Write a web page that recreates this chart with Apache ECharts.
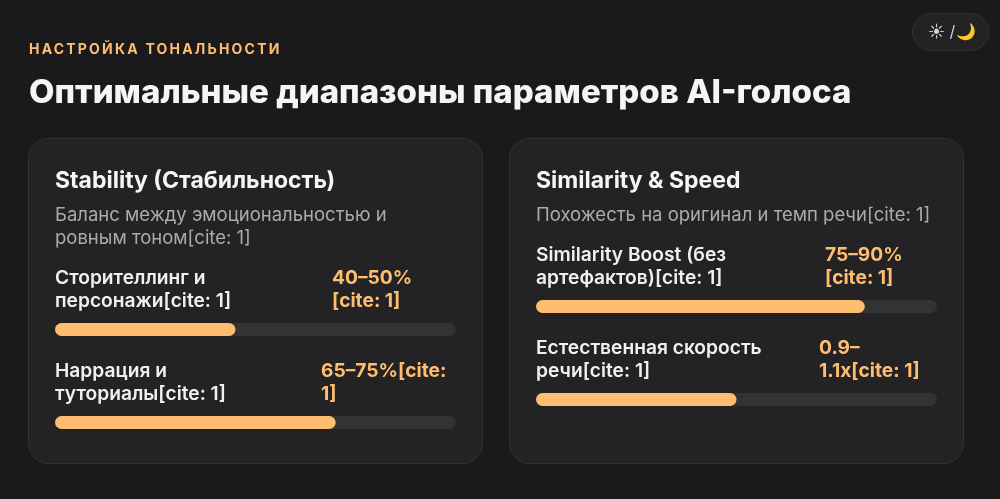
<!DOCTYPE html>
<html>
<head>
<meta charset="utf-8">
<style>
  html, body { margin: 0; padding: 0; background: #1a1a1c; }
  #chart-container { width: 1000px; height: 499px; }
</style>
<script src="https://cdn.jsdelivr.net/npm/echarts@6/dist/echarts.min.js"></script>
</head>
<body>
<div id="chart-container"></div>
<script>
// Data
var eyebrow = "НАСТРОЙКА ТОНАЛЬНОСТИ";
var heading = "Оптимальные диапазоны параметров AI-голоса";
var toggleLeft = "☀\uFE0E /";
var toggleRight = "🌙";
var cardTitles = ["Stability (Стабильность)", "Similarity & Speed"];
var cardSubtitles = [
  ["Баланс между эмоциональностью и", "ровным тоном[cite: 1]"],
  ["Похожесть на оригинал и темп речи[cite: 1]"]
];
var barLabels = [
  ["Сторителлинг и", "персонажи[cite: 1]"],
  ["Наррация и", "туториалы[cite: 1]"],
  ["Similarity Boost (без", "артефактов)[cite: 1]"],
  ["Естественная скорость", "речи[cite: 1]"]
];
var barRanges = [
  ["40–50%", "[cite: 1]"],
  ["65–75%[cite:", "1]"],
  ["75–90%", "[cite: 1]"],
  ["0.9–", "1.1x[cite: 1]"]
];
var barValues = [45, 70, 82, 50];

// Layout
var FONT = "Inter, 'Noto Sans', sans-serif";
var ACCENT = "#ffbe6f";
var cardX = [28.5, 509.5];
var cardTextX = [55, 536];
var barCard = [0, 0, 1, 1];
var barTop = [323, 416, 300, 393];
var rangeX = [332, 321, 825, 819];
var BAR_W = 401;
var BAR_H = 13;
var LINE = 23;
var EYEBROW_LAYER = 5;

var graphic = [];

function addText(x, y, text, size, weight, color) {
  graphic.push({
    type: "text",
    x: x,
    y: y,
    z: 10,
    style: {
      text: text,
      fontFamily: FONT,
      fontSize: size,
      fontWeight: weight,
      fill: color,
      textVerticalAlign: "middle"
    }
  });
}

cardX.forEach(function (x, i) {
  graphic.push({
    type: "rect",
    z: -1,
    shape: { x: x, y: 138.5, width: 454, height: 325, r: 20 },
    style: { fill: "#232325", stroke: "#323234", lineWidth: 1 }
  });
  addText(cardTextX[i], 181, cardTitles[i], 23, 700, "#f5f5f5");
  cardSubtitles[i].forEach(function (line, j) {
    addText(cardTextX[i], 215 + j * 23, line, 18.5, 400, "#ababab");
  });
});

graphic.push({
  type: "rect",
  z: -1,
  shape: { x: 912.5, y: 13.5, width: 76, height: 37, r: 18.5 },
  style: { fill: "#232325", stroke: "#323234", lineWidth: 1 }
});
addText(928, 32, toggleLeft, 16, 400, "#d0d0d0");
addText(956, 32, toggleRight, 16, 400, "#d0d0d0");
addText(29, 93, heading, 33, 800, "#f5f5f5");

// One grid per progress bar, so the scale maps percent to width
var grids = [], xAxes = [], yAxes = [], series = [];
barValues.forEach(function (v, i) {
  var textX = cardTextX[barCard[i]];
  barLabels[i].forEach(function (line, j) {
    addText(textX, barTop[i] - 45 + j * LINE, line, 19.2, 600, "#f0f0f0");
  });
  barRanges[i].forEach(function (line, j) {
    addText(rangeX[i], barTop[i] - 45 + j * LINE, line, 19.2, 700, ACCENT);
  });
  grids.push({ left: textX, top: barTop[i], width: BAR_W, height: BAR_H });
  xAxes.push({ type: "value", gridIndex: i, min: 0, max: 100, show: false });
  yAxes.push({ type: "category", gridIndex: i, data: [barLabels[i].join(" ")], show: false });
  series.push({
    type: "bar",
    xAxisIndex: i,
    yAxisIndex: i,
    data: [v],
    barWidth: BAR_H,
    silent: true,
    showBackground: true,
    backgroundStyle: { color: "#333335", borderRadius: 6.5 },
    itemStyle: { color: ACCENT, borderRadius: 6.5 }
  });
});

var myChart = echarts.init(document.getElementById("chart-container"));
myChart.setOption({
  backgroundColor: "#1a1a1c",
  animation: false,
  title: {
    text: eyebrow,
    left: 24,
    top: 38,
    zlevel: EYEBROW_LAYER,
    textStyle: { fontFamily: FONT, fontSize: 14, fontWeight: 700, color: ACCENT }
  },
  grid: grids,
  xAxis: xAxes,
  yAxis: yAxes,
  series: series,
  graphic: graphic
});

// zrender has no letter spacing option, so set it on the eyebrow's own layer
var painter = myChart.getZr().painter;
painter.getLayer(EYEBROW_LAYER).ctx.letterSpacing = "2.2px";
painter.refresh(true);
</script>
</body>
</html>
